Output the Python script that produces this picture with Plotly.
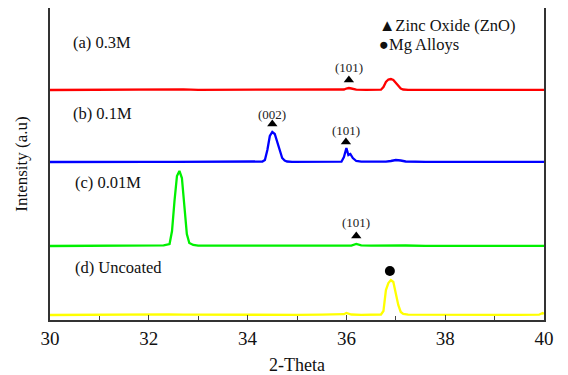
import plotly.graph_objects as go

# ---- data (intensity above each pattern's own baseline, arbitrary units) ----
x_a = [30, 30.5, 31, 31.5, 32, 32.4, 32.7, 33, 33.5, 34, 34.5, 35, 35.5, 35.8, 35.95, 36.0, 36.05, 36.1, 36.2,
       36.4, 36.7, 36.75, 36.8, 36.85, 36.9, 36.95, 37.0, 37.05, 37.1, 37.15, 37.25, 37.6, 38, 38.5, 39, 39.5, 40]
y_a = [0, 0.2, 0, 0.2, 0.1, 0.3, 0.6, 0.2, 0.3, 0.2, 0.3, 0.2, 0.3, 0.3, 0.5, 1.5, 2, 1.5, 0.4,
       0.2, 0.3, 3, 8, 10.5, 11, 10, 7, 4, 1.5, 0.5, 0.1, 0.2, 0.1, 0.2, 0.1, 0.2, 0.1]

x_b = [30, 30.5, 31, 31.5, 32, 32.5, 33, 33.5, 34, 34.3, 34.35, 34.4, 34.45, 34.5, 34.55, 34.6, 34.65, 34.7, 34.75,
       34.8, 34.9, 35.3, 35.7, 35.9, 35.95, 36.0, 36.04, 36.08, 36.13, 36.2, 36.3, 36.6, 36.8, 36.9, 37.0, 37.1, 37.2,
       37.6, 38, 38.5, 39, 39.5, 40]
y_b = [0, 0.2, 0.1, 0.2, 0.1, 0.2, 0.1, 0.2, 0.3, 0.5, 2, 12, 26, 30, 28, 20, 10, 4, 1.5,
       0.5, 0.2, 0.1, 0.2, 0.3, 5, 14, 7, 8, 4, 1, 0.3, 0.2, 0.4, 1, 2, 1.5, 0.5,
       0.2, 0.1, 0.2, 0.1, 0.2, 0.2]

x_c = [30, 30.5, 31, 31.5, 32, 32.3, 32.42, 32.47, 32.52, 32.57, 32.62, 32.67, 32.72, 32.77, 32.82, 32.9, 33.0,
       33.5, 34, 34.5, 35, 35.5, 36.0, 36.1, 36.2, 36.3, 36.5, 36.8, 37.0, 37.2, 37.6, 38, 38.5, 39, 39.5, 40]
y_c = [0, 0.2, 0.1, 0.3, 0.3, 0.6, 2, 15, 45, 70, 75, 68, 40, 12, 3, 1, 0.4,
       0.3, 0.2, 0.3, 0.2, 0.3, 0.2, 0.4, 2, 0.6, 0.3, 0.6, 1, 0.5, 0.2, 0.1, 0.2, 0.1, 0.2, 0.2]

x_d = [30, 30.5, 31, 31.5, 32, 32.4, 32.7, 33, 33.5, 34, 34.5, 35, 35.5, 35.9, 35.95, 36.0, 36.05, 36.1, 36.3,
       36.6, 36.7, 36.75, 36.8, 36.85, 36.9, 36.95, 37.0, 37.05, 37.1, 37.15, 37.25, 37.6, 38, 38.5, 39, 39.5, 39.9, 39.97, 40]
y_d = [0, 0.2, 0.1, 0.2, 0.3, 0.7, 0.3, 0.2, 0.3, 0.2, 0.3, 0.2, 0.3, 0.3, 0.8, 2, 1, 0.5, 0.2,
       0.3, 0.5, 4, 25, 32, 35, 33, 22, 10, 3, 1, 0.3, 0.2, 0.1, 0.2, 0.1, 0.2, 0.3, 2, 1.2]

labels = ["(a) 0.3M", "(b) 0.1M", "(c) 0.01M", "(d) Uncoated"]
colors = ["#ff0000", "#0000ff", "#00f000", "#ffff00"]
offsets = [230, 158, 74, 5]

# ZnO reflections: (label, 2-theta, y-position of triangle, y-position of label)
zno_hkl = ["(101)", "(002)", "(101)", "(101)"]
zno_x = [36.05, 34.5, 35.99, 36.2]
zno_tri_y = [240, 196, 178, 84]
zno_lab_y = [253, 206, 190, 98]
mg_x = [36.88]
mg_y = [49]

fig = go.Figure()
series = [(x_a, y_a), (x_b, y_b), (x_c, y_c), (x_d, y_d)]
for (xs, ys), c, off, lab in zip(series, colors, offsets, labels):
    fig.add_trace(go.Scatter(x=xs, y=[v + off for v in ys], mode="lines",
                             line=dict(color=c, width=2.3), name=lab, showlegend=False))

fig.add_trace(go.Scatter(x=zno_x, y=zno_tri_y, mode="markers",
                         marker=dict(symbol="triangle-up", size=9, color="black"), showlegend=False))
fig.add_trace(go.Scatter(x=mg_x, y=mg_y, mode="markers",
                         marker=dict(symbol="circle", size=10, color="black"), showlegend=False))

font_serif = "Times New Roman"
for t, xv, yv in zip(zno_hkl, zno_x, zno_lab_y):
    fig.add_annotation(x=xv, y=yv, text=t, showarrow=False, font=dict(size=13, color="#222"))

label_pos = [(30.42, 278), (30.42, 207), (30.47, 138), (30.47, 53)]
for lab, (xv, yv) in zip(labels, label_pos):
    fig.add_annotation(x=xv, y=yv, text=lab, showarrow=False, xanchor="left",
                       font=dict(size=16.5, color="#111"))

fig.add_annotation(x=36.62, y=295, text="▲Zinc Oxide (ZnO)", showarrow=False, xanchor="left",
                   font=dict(size=16.5, color="#111"))
fig.add_annotation(x=36.62, y=276, text="●Mg Alloys", showarrow=False, xanchor="left",
                   font=dict(size=16.5, color="#111"))

# the page body has an 8px default margin, so the figure is shrunk by 8px
fig.update_layout(
    width=560, height=367,
    margin=dict(l=42, r=24, t=0, b=55, autoexpand=False),
    plot_bgcolor="white", paper_bgcolor="white",
    font=dict(family=font_serif, color="#111"),
    xaxis=dict(range=[30, 40], tickmode="array", tickvals=[30, 32, 34, 36, 38, 40],
               ticks="inside", ticklen=5, tickcolor="#444", automargin=False,
               minor=dict(tickvals=[31, 33, 35, 37, 39], ticks="inside", ticklen=4, tickcolor="#444"),
               showline=True, linecolor="#333", linewidth=1.5, mirror=True, showgrid=False,
               zeroline=False, tickfont=dict(size=19, family=font_serif),
               title=dict(text="2-Theta", font=dict(size=18, family=font_serif), standoff=13)),
    yaxis=dict(range=[0, 312], showticklabels=False, ticks="", showline=True, linecolor="#333",
               linewidth=1.5, mirror=True, showgrid=False, zeroline=False, automargin=False,
               title=dict(text="Intensity (a.u)", font=dict(size=17, family=font_serif), standoff=16)),
)

fig.write_html("out.html")
